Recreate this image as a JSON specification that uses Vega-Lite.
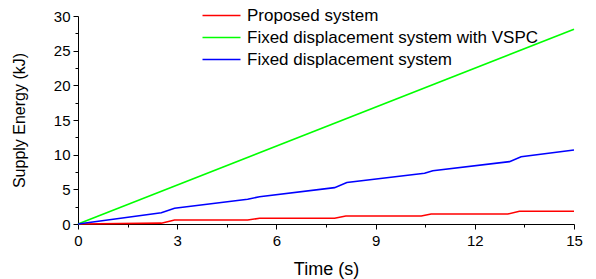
{
  "$schema": "https://vega.github.io/schema/vega-lite/v6.json",
  "width": 496,
  "height": 208,
  "autosize": "none",
  "padding": {"left": 78, "top": 16, "right": 22, "bottom": 55},
  "background": "white",
  "data": {
    "values": [
      {"t": 0, "E": 0, "series": "Proposed system"},
      {"t": 2.52, "E": 0.12, "series": "Proposed system"},
      {"t": 2.92, "E": 0.58, "series": "Proposed system"},
      {"t": 5.13, "E": 0.58, "series": "Proposed system"},
      {"t": 5.49, "E": 0.82, "series": "Proposed system"},
      {"t": 7.76, "E": 0.82, "series": "Proposed system"},
      {"t": 8.1, "E": 1.15, "series": "Proposed system"},
      {"t": 10.38, "E": 1.15, "series": "Proposed system"},
      {"t": 10.68, "E": 1.44, "series": "Proposed system"},
      {"t": 13.0, "E": 1.44, "series": "Proposed system"},
      {"t": 13.35, "E": 1.83, "series": "Proposed system"},
      {"t": 15, "E": 1.83, "series": "Proposed system"},
      {"t": 0, "E": 0, "series": "Fixed displacement system with VSPC"},
      {"t": 15, "E": 28.1, "series": "Fixed displacement system with VSPC"},
      {"t": 0, "E": 0, "series": "Fixed displacement system"},
      {"t": 2.52, "E": 1.63, "series": "Fixed displacement system"},
      {"t": 2.92, "E": 2.26, "series": "Fixed displacement system"},
      {"t": 5.13, "E": 3.56, "series": "Fixed displacement system"},
      {"t": 5.49, "E": 3.94, "series": "Fixed displacement system"},
      {"t": 7.76, "E": 5.24, "series": "Fixed displacement system"},
      {"t": 8.13, "E": 5.98, "series": "Fixed displacement system"},
      {"t": 10.48, "E": 7.31, "series": "Fixed displacement system"},
      {"t": 10.73, "E": 7.69, "series": "Fixed displacement system"},
      {"t": 13.05, "E": 8.99, "series": "Fixed displacement system"},
      {"t": 13.4, "E": 9.71, "series": "Fixed displacement system"},
      {"t": 15, "E": 10.68, "series": "Fixed displacement system"}
    ]
  },
  "mark": {"type": "line", "strokeWidth": 1.6, "interpolate": "linear"},
  "encoding": {
    "x": {
      "field": "t", "type": "quantitative",
      "scale": {"domain": [0, 15], "nice": false, "zero": false},
      "axis": {
        "title": "Time (s)",
        "titleFontSize": 18,
        "values": [0, 1.5, 3, 4.5, 6, 7.5, 9, 10.5, 12, 13.5, 15],
        "labelExpr": "datum.value % 3 == 0 ? datum.label : ''",
        "tickSize": {"condition": {"test": "datum.value % 3 != 0", "value": 3}, "value": 5},
        "labelPadding": 4,
        "titlePadding": 12
      }
    },
    "y": {
      "field": "E", "type": "quantitative",
      "scale": {"domain": [0, 30], "nice": false},
      "axis": {
        "title": "Supply Energy (kJ)",
        "titleFontSize": 16,
        "values": [0, 2.5, 5, 7.5, 10, 12.5, 15, 17.5, 20, 22.5, 25, 27.5, 30],
        "labelExpr": "datum.value % 5 == 0 ? datum.label : ''",
        "tickSize": {"condition": {"test": "datum.value % 5 != 0", "value": 3}, "value": 5},
        "labelPadding": 3,
        "titlePadding": 26
      }
    },
    "color": {
      "field": "series", "type": "nominal",
      "scale": {
        "domain": ["Proposed system", "Fixed displacement system with VSPC", "Fixed displacement system"],
        "range": ["#ff0000", "#00ff00", "#0000ff"]
      },
      "legend": {
        "title": null,
        "orient": "none",
        "legendX": 133,
        "legendY": -11,
        "symbolType": "M-2,0H2",
        "symbolSize": 361,
        "symbolStrokeWidth": 1.6,
        "labelFontSize": 17,
        "labelLimit": 400,
        "labelOffset": 15,
        "rowPadding": 3
      }
    }
  },
  "config": {
    "view": {"stroke": null},
    "font": "Liberation Sans",
    "axis": {
      "grid": false,
      "domainColor": "black",
      "domainWidth": 1,
      "tickColor": "black",
      "labelColor": "black",
      "labelFont": "Liberation Sans",
      "labelFontSize": 15,
      "titleFont": "Liberation Sans",
      "titleFontWeight": "normal",
      "titleColor": "black",
      "labelFlush": false,
      "labelOverlap": false
    },
    "legend": {"labelColor": "black", "labelFont": "Liberation Sans"}
  }
}
